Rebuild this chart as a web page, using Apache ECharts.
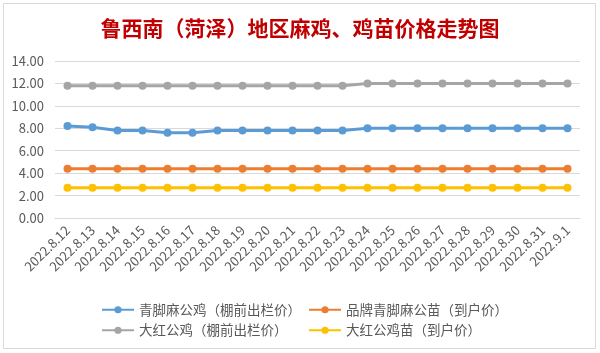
<!DOCTYPE html>
<html lang="zh">

<head>
    <meta charset="UTF-8">
    <title>鸡苗价格走势图</title>
    <style>
        * {
            margin: 0;
            padding: 0;
        }

        body {
            background: #fff;
        }

        .box {
            width: 600px;
            height: 353px;
        }
    </style>
</head>

<body>
    <div class="box" id="main"></div>

    <script src="https://cdn.jsdelivr.net/npm/echarts@6/dist/echarts.min.js"></script>
    <script>
        var dates = ['2022.8.12', '2022.8.13', '2022.8.14', '2022.8.15', '2022.8.16', '2022.8.17', '2022.8.18',
            '2022.8.19', '2022.8.20', '2022.8.21', '2022.8.22', '2022.8.23', '2022.8.24', '2022.8.25',
            '2022.8.26', '2022.8.27', '2022.8.28', '2022.8.29', '2022.8.30', '2022.8.31', '2022.9.1'];
        var blueCock = [8.2, 8.1, 7.8, 7.8, 7.6, 7.6, 7.8, 7.8, 7.8, 7.8, 7.8, 7.8, 8.0, 8.0, 8.0, 8.0, 8.0, 8.0, 8.0, 8.0, 8.0];
        var blueChick = [4.4, 4.4, 4.4, 4.4, 4.4, 4.4, 4.4, 4.4, 4.4, 4.4, 4.4, 4.4, 4.4, 4.4, 4.4, 4.4, 4.4, 4.4, 4.4, 4.4, 4.4];
        var redCock = [11.8, 11.8, 11.8, 11.8, 11.8, 11.8, 11.8, 11.8, 11.8, 11.8, 11.8, 11.8, 12.0, 12.0, 12.0, 12.0, 12.0, 12.0, 12.0, 12.0, 12.0];
        var redChick = [2.7, 2.7, 2.7, 2.7, 2.7, 2.7, 2.7, 2.7, 2.7, 2.7, 2.7, 2.7, 2.7, 2.7, 2.7, 2.7, 2.7, 2.7, 2.7, 2.7, 2.7];
        var names = ['青脚麻公鸡（棚前出栏价）', '品牌青脚麻公苗（到户价）', '大红公鸡（棚前出栏价）', '大红公鸡苗（到户价）'];
        var colors = ['#5B9BD5', '#ED7D31', '#A5A5A5', '#FFC000'];

        var font = '"Noto Sans CJK SC", "Noto Sans", sans-serif';
        var myChart = echarts.init(document.getElementById('main'));

        function line(name, data, color) {
            return {
                name: name,
                type: 'line',
                data: data,
                symbol: 'circle',
                symbolSize: 8,
                itemStyle: { color: color },
                lineStyle: { color: color, width: 3 },
                emphasis: { disabled: true }
            }
        }

        var legendText = { color: '#595959', fontSize: 13.5, fontFamily: font };

        var option = {
            animation: false,
            textStyle: { fontFamily: font },
            title: {
                text: '鲁西南（菏泽）地区麻鸡、鸡苗价格走势图',
                left: 'center',
                top: 13,
                textStyle: {
                    color: '#C00000',
                    fontSize: 21,
                    fontWeight: 'bold',
                    fontFamily: font
                }
            },
            graphic: [{
                type: 'rect',
                shape: { x: 3.5, y: 3.5, width: 592, height: 345 },
                style: { fill: 'none', stroke: '#d9d9d9', lineWidth: 1 },
                silent: true
            }],
            legend: [{
                orient: 'vertical',
                left: 96,
                top: 298,
                itemWidth: 32,
                itemHeight: 9,
                itemGap: 7,
                data: [names[0], names[2]],
                textStyle: legendText
            }, {
                orient: 'vertical',
                left: 303,
                top: 298,
                itemWidth: 32,
                itemHeight: 9,
                itemGap: 7,
                data: [names[1], names[3]],
                textStyle: legendText
            }],
            grid: {
                left: 55,
                right: 20,
                top: 61,
                bottom: 135
            },
            xAxis: {
                type: 'category',
                data: dates,
                boundaryGap: true,
                axisLine: { lineStyle: { color: '#d9d9d9' } },
                axisTick: { show: false },
                axisLabel: {
                    rotate: 45,
                    interval: 0,
                    color: '#595959',
                    fontSize: 13,
                    margin: 10
                }
            },
            yAxis: {
                type: 'value',
                min: 0,
                max: 14,
                interval: 2,
                axisLine: { show: false },
                axisTick: { show: false },
                splitLine: { lineStyle: { color: '#d9d9d9' } },
                axisLabel: {
                    color: '#595959',
                    fontSize: 13,
                    margin: 11,
                    formatter: function (v) {
                        return v.toFixed(2);
                    }
                }
            },
            series: [
                line(names[0], blueCock, colors[0]),
                line(names[1], blueChick, colors[1]),
                line(names[2], redCock, colors[2]),
                line(names[3], redChick, colors[3])
            ]
        };
        myChart.setOption(option);
    </script>
</body>

</html>
